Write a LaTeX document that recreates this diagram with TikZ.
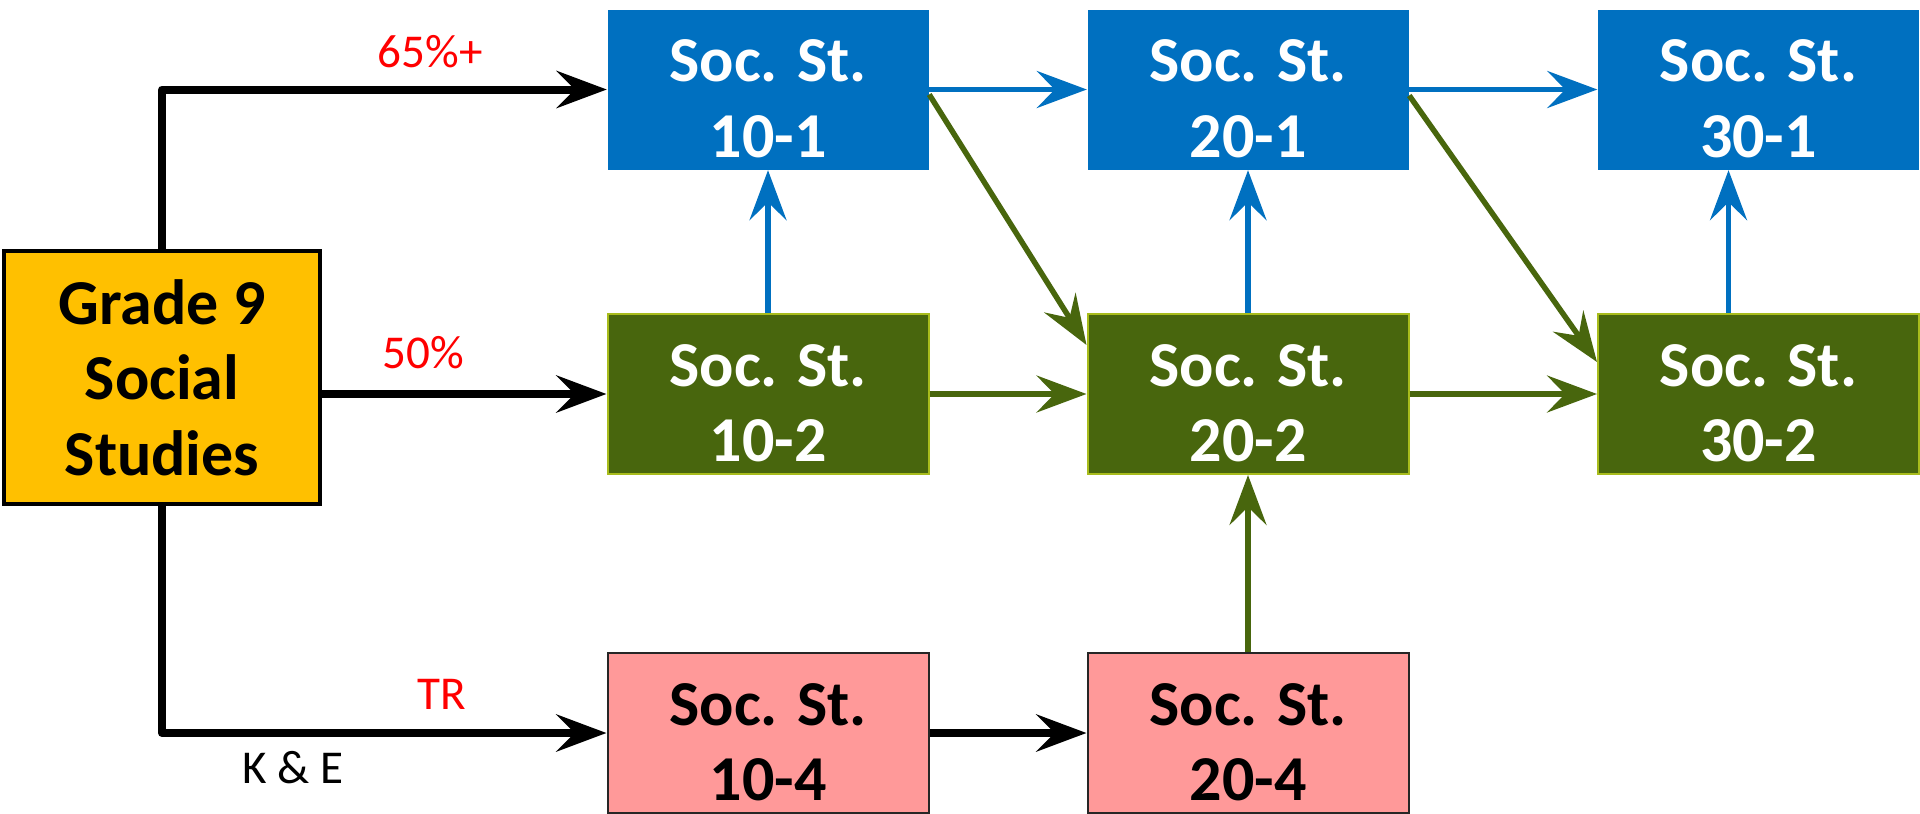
\documentclass[tikz,border=0pt]{standalone}
\usepackage{fontspec}
\setmainfont{Carlito}
\usetikzlibrary{arrows.meta}
\definecolor{sblue}{HTML}{0070C0}
\definecolor{sgreen}{RGB}{72,102,13}
\definecolor{sgreenline}{RGB}{168,188,28}
\definecolor{spink}{HTML}{FF9999}
\definecolor{syellow}{HTML}{FFC000}
\newcommand{\socst}{\rule{0pt}{0.6cm}Soc. St.}
\begin{document}
\begin{tikzpicture}[
  course/.style={minimum width=3.21cm, minimum height=1.60cm, inner sep=0pt, align=center,
    font=\fontsize{18.2}{21.5}\selectfont\bfseries},
  bluecourse/.style={course, fill=sblue, text=white},
  greencourse/.style={course, fill=sgreen, draw=sgreenline, line width=0.02cm, text=white},
  pinkcourse/.style={course, fill=spink, draw=black!85, line width=0.02cm},
  lbl/.style={font=\fontsize{13.4}{16}\selectfont},
  ahead/.style={-{Stealth[length=5mm, width=3.7mm, inset=1.8mm]}},
  blk/.style={ahead, line width=0.08cm, black, line join=round},
  blu/.style={ahead, line width=0.055cm, sblue},
  grn/.style={ahead, line width=0.055cm, sgreen}]
\useasboundingbox (0,0) rectangle (19.2,8.13);
% start box
\node[course, minimum width=3.16cm, minimum height=2.53cm, fill=syellow, draw=black, line width=0.04cm] (grade) at (1.62,4.355) {Grade 9\\Social\\Studies};
% -1 stream
\node[bluecourse] (s101) at (7.68,7.235) {\socst\\10-1};
\node[bluecourse] (s201) at (12.48,7.235) {\socst\\20-1};
\node[bluecourse] (s301) at (17.585,7.235) {\socst\\30-1};
% -2 stream
\node[greencourse] (s102) at (7.68,4.19) {\socst\\10-2};
\node[greencourse] (s202) at (12.48,4.19) {\socst\\20-2};
\node[greencourse] (s302) at (17.585,4.19) {\socst\\30-2};
% -4 stream
\node[pinkcourse] (s104) at (7.68,0.80) {\socst\\10-4};
\node[pinkcourse] (s204) at (12.48,0.80) {\socst\\20-4};
% labels
\node[lbl, text=red] (l65) at (4.30,7.61) {65\%+};
\node[lbl, text=red] (l50) at (4.23,4.60) {50\%};
\node[lbl, text=red] (ltr) at (4.42,1.19) {TR};
\node[lbl] (lke) at (2.93,0.45) {K \& E};
% from grade 9
\draw[blk] (grade.north) |- (s101.west);
\draw[blk] (grade.east |- s102.west) -- (s102.west);
\draw[blk] (grade.south) |- (s104.west);
% across
\draw[blu] (s101) -- (s201);
\draw[blu] (s201) -- (s301);
\draw[grn] (s102) -- (s202);
\draw[grn] (s202) -- (s302);
\draw[blk] (s104) -- (s204);
% up
\draw[blu] (s102) -- (s101);
\draw[blu] (s202) -- (s201);
\draw[blu] ([xshift=-0.30cm]s302.north) -- ([xshift=-0.30cm]s301.south);
\draw[grn] (s204) -- (s202);
% down
\draw[grn] ([yshift=-0.05cm]s101.east) -- ([yshift=0.49cm]s202.west);
\draw[grn] ([yshift=-0.06cm]s201.east) -- ([yshift=0.32cm]s302.west);
\end{tikzpicture}
\end{document}
